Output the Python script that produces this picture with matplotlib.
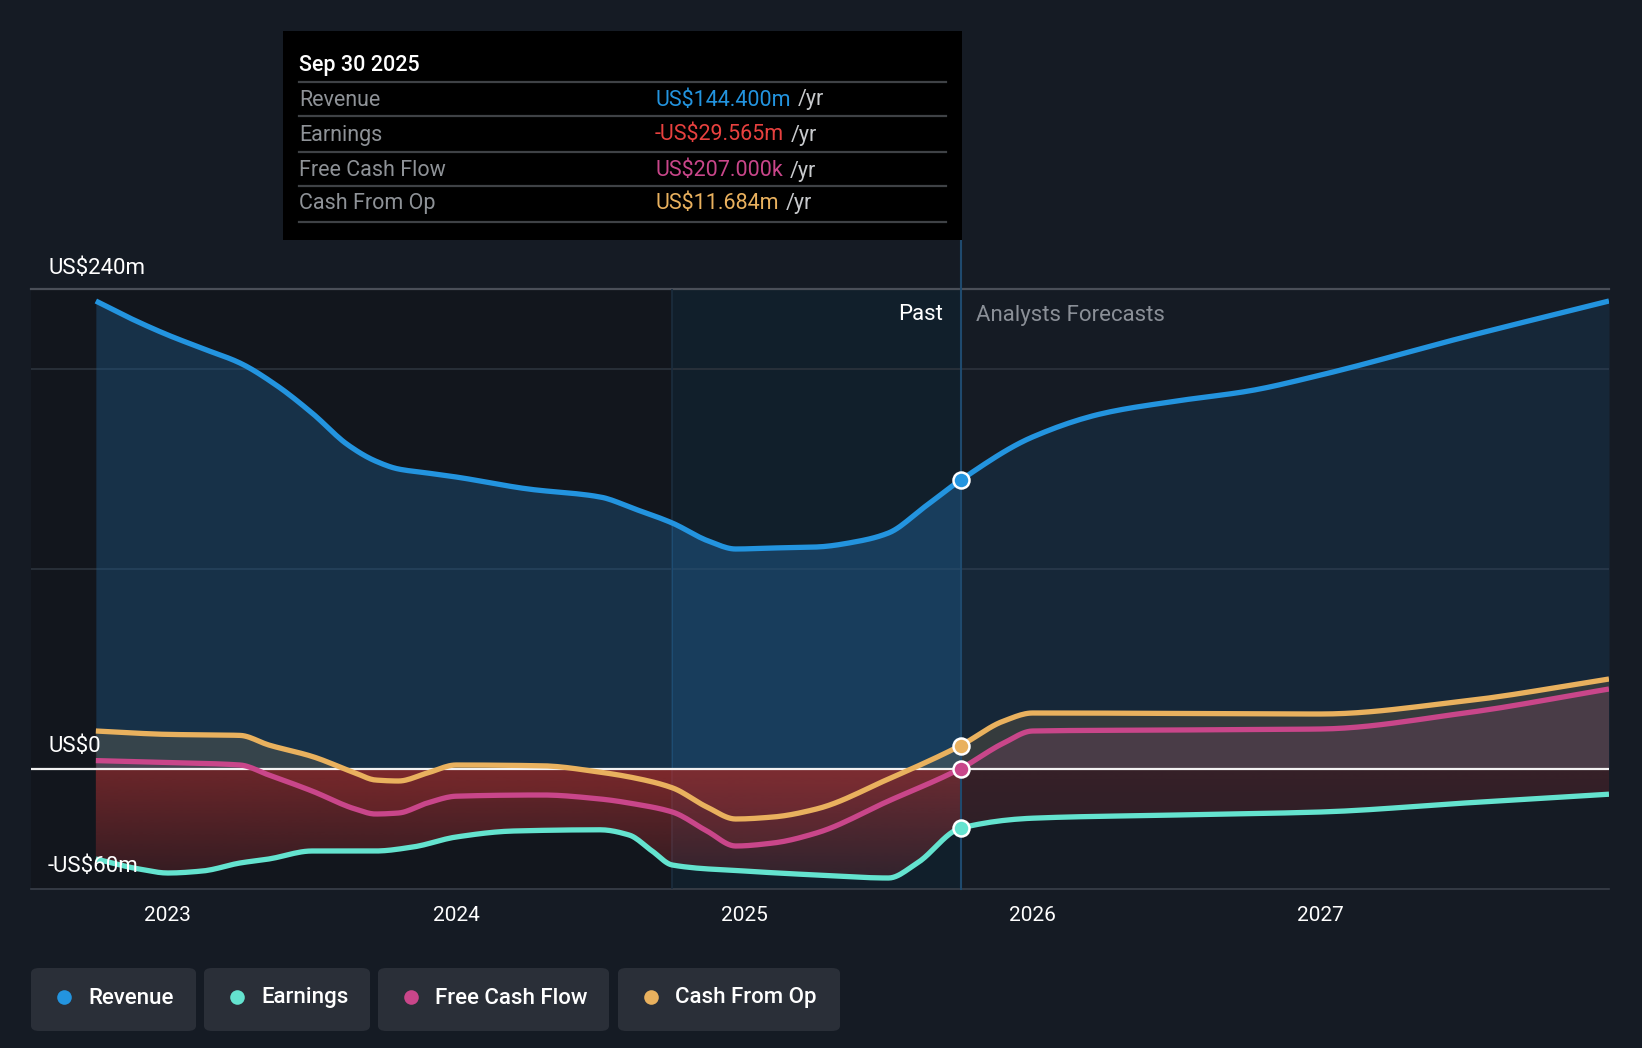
import numpy as np
import matplotlib
matplotlib.use('Agg')
import matplotlib.pyplot as plt
from matplotlib.patches import FancyBboxPatch, Rectangle, Polygon
from matplotlib.colors import to_rgba

plt.rcParams['font.family'] = ['Roboto', 'DejaVu Sans']

# ---------------- data (US$ millions, x in decimal years) ----------------
rev_x = [2022.75, 2022.875, 2023.0, 2023.125, 2023.25, 2023.375, 2023.5, 2023.625,
         2023.72, 2023.8, 2023.9, 2024.0, 2024.25, 2024.5, 2024.62, 2024.75,
         2024.875, 2024.97, 2025.1, 2025.25, 2025.4, 2025.5, 2025.625, 2025.75,
         2026.0, 2026.25, 2026.5, 2026.75, 2027.0, 2027.5, 2028.0]
rev_y = [234, 225, 217, 210, 203, 192, 178, 162,
         154, 150, 148, 146, 140, 136, 130, 123,
         114, 110, 110.5, 111, 114, 118, 131, 144.4,
         166, 178, 184, 189, 197, 216, 234]

earn_x = [2022.75, 2022.9, 2023.0, 2023.12, 2023.25, 2023.35, 2023.5, 2023.72, 2023.85,
          2024.0, 2024.2, 2024.5, 2024.6, 2024.68, 2024.75, 2025.0, 2025.25, 2025.5,
          2025.6, 2025.75, 2026.0, 2026.5, 2027.0, 2027.5, 2028.0]
earn_y = [-45, -50, -52, -51, -47, -45, -41, -41, -39,
          -34, -31, -30.4, -33, -41, -48, -51, -53, -54.5,
          -47, -29.6, -24.6, -23, -21.5, -17, -12.6]

fcf_x = [2022.75, 2023.0, 2023.25, 2023.35, 2023.5, 2023.65, 2023.72, 2023.8, 2023.9,
         2024.0, 2024.3, 2024.5, 2024.62, 2024.75, 2024.87, 2024.97, 2025.1, 2025.25,
         2025.5, 2025.75, 2025.9, 2026.0, 2026.5, 2027.0, 2027.5, 2028.0]
fcf_y = [4.2, 3.2, 2.0, -3, -11, -20, -22.5, -22, -17,
         -13.6, -13, -15, -17.5, -21.5, -31, -38.5, -37, -32,
         -16, 0.2, 13, 19, 19.5, 20, 28, 40]

cfo_x = [2022.75, 2023.0, 2023.25, 2023.35, 2023.5, 2023.65, 2023.72, 2023.8, 2023.9,
         2024.0, 2024.3, 2024.5, 2024.62, 2024.75, 2024.87, 2024.97, 2025.1, 2025.25,
         2025.5, 2025.75, 2025.9, 2026.0, 2026.5, 2027.0, 2027.5, 2028.0]
cfo_y = [19, 17.3, 16.8, 12, 6.3, -2, -5.5, -6, -2,
         2, 1.6, -1.6, -4.5, -9.4, -19, -25, -24, -20,
         -5, 11.7, 24, 28, 27.8, 27.5, 34, 45]

year_ticks = [2023, 2024, 2025, 2026, 2027]
year_labels = ['2023', '2024', '2025', '2026', '2027']

tooltip_date = 'Sep 30 2025'
tooltip_rows = ['Revenue', 'Earnings', 'Free Cash Flow', 'Cash From Op']
tooltip_vals = ['US$144.400m', '-US$29.565m', 'US$207.000k', 'US$11.684m']
legend_names = ['Revenue', 'Earnings', 'Free Cash Flow', 'Cash From Op']

# ---------------- style ----------------
C_REV = '#2394df'
C_EARN = '#64e3cf'
C_FCF = '#c9468a'
C_CFO = '#e9b15e'
C_NEG = '#e8413f'
BG = '#151b24'

W, H = 1642, 1048
fig = plt.figure(figsize=(W / 100, H / 100), dpi=100)
fig.patch.set_facecolor(BG)


def fx(px):
    return px / W


def fy(py):
    return 1 - py / H


def smooth_render(x, y, n=12):
    """Monotone cubic (Fritsch-Carlson) curve through the given points, for drawing only."""
    x = np.asarray(x, float); y = np.asarray(y, float)
    h = np.diff(x); d = np.diff(y) / h
    m = np.zeros_like(y)
    m[0] = d[0]; m[-1] = d[-1]
    for i in range(1, len(y) - 1):
        if d[i - 1] * d[i] <= 0:
            m[i] = 0
        else:
            w1 = 2 * h[i] + h[i - 1]; w2 = h[i] + 2 * h[i - 1]
            m[i] = (w1 + w2) / (w1 / d[i - 1] + w2 / d[i])
    xs, ys = [], []
    for i in range(len(x) - 1):
        t = np.linspace(0, 1, n, endpoint=False)
        h00 = 2 * t**3 - 3 * t**2 + 1; h10 = t**3 - 2 * t**2 + t
        h01 = -2 * t**3 + 3 * t**2; h11 = t**3 - t**2
        xs.append(x[i] + t * h[i])
        ys.append(h00 * y[i] + h10 * h[i] * m[i] + h01 * y[i + 1] + h11 * h[i] * m[i + 1])
    xs.append([x[-1]]); ys.append([y[-1]])
    return np.concatenate(xs), np.concatenate(ys)


ax = fig.add_axes([fx(31), fy(889), fx(1609) - fx(31), fy(289) - fy(889)])
ax.set_facecolor('none')
XMIN, XMAX = 2022.525, 2028.0
for s in ax.spines.values():
    s.set_visible(False)

PAST_START = 2024.75
NOW = 2025.75

# background regions
ax.axvspan(XMIN, PAST_START, color='#12161d', zorder=0, lw=0)
ax.axvspan(PAST_START, NOW, color='#111f2b', zorder=0, lw=0)

# gridlines
for g in [100, 200]:
    ax.axhline(g, color='#2c333d', lw=1.2, zorder=1)
ax.axhline(240, color='#4a4f58', lw=1.6, zorder=1, clip_on=False)
ax.axhline(-60, color='#3a404a', lw=1.2, zorder=1, clip_on=False)

rx, ry = smooth_render(rev_x, rev_y)
ex, ey = smooth_render(earn_x, earn_y)
fxs, fys = smooth_render(fcf_x, fcf_y)
cx, cy = smooth_render(cfo_x, cfo_y)


def clipped_fill(x, y1, y2, color, alpha, x0, x1, z=2):
    poly = ax.fill_between(x, y1, y2, color=color, alpha=alpha, lw=0, zorder=z)
    rect = Rectangle((x0, -100), x1 - x0, 400, transform=ax.transData)
    poly.set_clip_path(rect)
    return poly


# revenue fill in three zones
clipped_fill(rx, 0, ry, '#1f5a8a', 0.40, XMIN, PAST_START)
clipped_fill(rx, 0, ry, '#1f5a8a', 0.52, PAST_START, NOW)
clipped_fill(rx, 0, ry, '#1f5a8a', 0.20, NOW, XMAX)

# positive fills for cfo / fcf
ax.fill_between(cx, 0, cy, where=cy > 0, interpolate=True, color=C_CFO, alpha=0.15, lw=0, zorder=2)
ax.fill_between(fxs, 0, fys, where=fys > 0, interpolate=True, color=C_FCF, alpha=0.14, lw=0, zorder=2)

# negative gradient fill (0 down to earnings)
ex_neg = np.minimum(ey, 0)
verts = list(zip(ex, ex_neg)) + [(ex[-1], 0), (ex[0], 0)]
grad = np.linspace(1, 0, 100).reshape(-1, 1)
red = to_rgba('#d93a3a')
for (x0, x1, a_top, a_bot) in [(XMIN, NOW, 0.45, 0.14), (NOW, XMAX, 0.17, 0.10)]:
    img = np.zeros((100, 1, 4))
    img[..., 0] = red[0]; img[..., 1] = red[1]; img[..., 2] = red[2]
    img[..., 3] = a_bot + (a_top - a_bot) * grad
    im = ax.imshow(img, extent=(x0, x1, -60, 0), aspect='auto', zorder=2,
                   interpolation='bilinear', origin='upper')
    poly = Polygon(verts, closed=True, transform=ax.transData, facecolor='none', edgecolor='none')
    ax.add_patch(poly)
    im.set_clip_path(poly)

ax.fill_between(fxs, 0, fys, where=fys < 0, interpolate=True, color='#d93a3a', alpha=0.10, lw=0, zorder=2)
ax.fill_between(cx, 0, cy, where=cy < 0, interpolate=True, color='#d93a3a', alpha=0.08, lw=0, zorder=2)

ax.set_xlim(XMIN, XMAX)
ax.set_ylim(-60, 240)

# faint divider at start of highlight, divider at now
ax.axvline(PAST_START, color='#1b2d3e', lw=1.2, zorder=1)
ax.axvline(NOW, ymin=0, ymax=1 + 49 / 600, color='#1f4a6e', lw=1.5, zorder=3, clip_on=False)

# zero line
ax.axhline(0, color='#f2f2f2', lw=1.6, zorder=4)

# lines
lw = 3.8
ax.plot(cx, cy, color=C_CFO, lw=lw, zorder=5, solid_capstyle='butt')
ax.plot(fxs, fys, color=C_FCF, lw=lw, zorder=5, solid_capstyle='butt')
ax.plot(ex, ey, color=C_EARN, lw=lw, zorder=5, solid_capstyle='butt')
ax.plot(rx, ry, color=C_REV, lw=lw, zorder=6, solid_capstyle='butt')

# markers at now
for xs, ys, c in [(rev_x, rev_y, C_REV), (earn_x, earn_y, C_EARN), (fcf_x, fcf_y, C_FCF), (cfo_x, cfo_y, C_CFO)]:
    i = list(xs).index(NOW)
    ax.plot([xs[i]], [ys[i]], 'o', ms=11.5, mfc=c, mec='white', mew=1.8, zorder=8)

# ticks
ax.set_yticks([])
ax.set_xticks(year_ticks)
ax.set_xticklabels(year_labels, color='white', fontsize=15)
ax.tick_params(axis='x', length=0, pad=12)

# Past / Analysts Forecasts
ax.text(NOW - 0.06, 227, 'Past', color='white', fontsize=16, ha='right', va='center', zorder=9)
ax.text(NOW + 0.055, 227, 'Analysts Forecasts', color='#8a8f97', fontsize=16, ha='left', va='center', zorder=9)

# y labels
fig.text(fx(48), fy(268), 'US$240m', color='white', fontsize=16, va='center', ha='left')
fig.text(fx(48), fy(747), 'US$0', color='white', fontsize=16, va='center', ha='left')
fig.text(fx(48), fy(867), '-US$60m', color='white', fontsize=16, va='center', ha='left', zorder=10)

# tooltip
tip = Rectangle((fx(283), fy(240)), fx(962) - fx(283), fy(31) - fy(240), transform=fig.transFigure,
                facecolor='black', edgecolor='none', zorder=20)
fig.patches.append(tip)
fig.text(fx(299), fy(65), tooltip_date, color='white', fontsize=15.5, va='center', ha='left',
         zorder=21, fontweight='medium')
sep_y = [82, 116, 152, 186, 222]
for yy in sep_y:
    fig.add_artist(plt.Line2D([fx(299), fx(946)], [fy(yy), fy(yy)], transform=fig.transFigure,
                              color='#3f4246', lw=1.6, zorder=21))
row_y = [100, 135, 171, 204]
val_colors = [C_REV, C_NEG, C_FCF, C_CFO]
for yy, lab, val, vc in zip(row_y, tooltip_rows, tooltip_vals, val_colors):
    fig.text(fx(299), fy(yy), lab, color='#8e9297', fontsize=15.5, va='center', ha='left', zorder=21)
    t = fig.text(fx(655), fy(yy), val, color=vc, fontsize=15.5, va='center', ha='left', zorder=21)
    fig.canvas.draw()
    bb = t.get_window_extent()
    fig.text((bb.x1 + 7) / W, fy(yy), '/yr', color='#c8cacd', fontsize=15.5, va='center', ha='left', zorder=21)

# legend boxes
boxes = [(31, 196), (204, 370), (378, 609), (618, 840)]
lcolors = [C_REV, C_EARN, C_FCF, C_CFO]
for (x0, x1), name, c in zip(boxes, legend_names, lcolors):
    fb = FancyBboxPatch((fx(x0), fy(1031)), fx(x1) - fx(x0), fy(968) - fy(1031),
                        boxstyle='round,pad=0,rounding_size=0.005', transform=fig.transFigure,
                        facecolor='#2a2f38', edgecolor='none', zorder=5)
    fig.patches.append(fb)
    fig.add_artist(plt.Line2D([fx(x0 + 33)], [fy(997)], marker='o', ms=10.5, mfc=c, mec='none',
                              transform=fig.transFigure, zorder=6))
    fig.text(fx(x0 + 57), fy(998), name, color='white', fontsize=16, va='center', ha='left',
             zorder=6, fontweight='medium')

fig.savefig('out.png', dpi=100, facecolor=BG)
